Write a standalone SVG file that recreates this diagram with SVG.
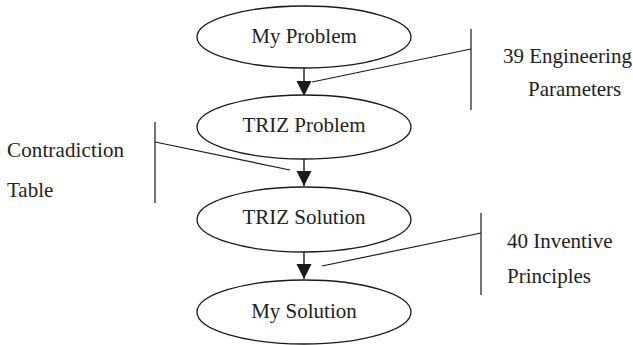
<svg xmlns="http://www.w3.org/2000/svg" width="633" height="345" viewBox="0 0 633 345" font-family="'Liberation Serif', 'Times New Roman', Times, 'DejaVu Serif', serif">
  <style>
    .node ellipse { fill: #ffffff; stroke: #1a1a1a; stroke-width: 1.3; }
    text { font-family: "Liberation Serif", "Times New Roman", Times, "DejaVu Serif", serif; font-size: 21px; fill: #222222; }
    .c { text-anchor: middle; }
    .edge { stroke: #1a1a1a; stroke-width: 1.4; fill: none; }
    .lead { stroke: #1a1a1a; stroke-width: 1.2; fill: none; }
  </style>
  <defs>
    <marker id="arrow" markerWidth="16" markerHeight="16" refX="15" refY="7.5" orient="auto" markerUnits="userSpaceOnUse">
      <path d="M0,0 L15,7.5 L0,15 Z" fill="#1a1a1a"/>
    </marker>
  </defs>

  <rect width="633" height="345" fill="#ffffff"/>

  <g id="connectors">
    <line class="edge" x1="304" y1="68" x2="304" y2="96" marker-end="url(#arrow)"/>
    <line class="edge" x1="304" y1="159" x2="304" y2="186" marker-end="url(#arrow)"/>
    <line class="edge" x1="304" y1="252" x2="304" y2="279" marker-end="url(#arrow)"/>
  </g>

  <g id="node-my-problem" class="node">
    <ellipse cx="304" cy="37" rx="107" ry="31"/>
    <text class="c" x="304" y="43">My Problem</text>
  </g>
  <g id="node-triz-problem" class="node">
    <ellipse cx="304" cy="127" rx="107" ry="32"/>
    <text class="c" x="304" y="132">TRIZ Problem</text>
  </g>
  <g id="node-triz-solution" class="node">
    <ellipse cx="304" cy="219.5" rx="107" ry="32.5"/>
    <text class="c" x="304" y="224">TRIZ Solution</text>
  </g>
  <g id="node-my-solution" class="node">
    <ellipse cx="304" cy="312" rx="107" ry="32"/>
    <text class="c" x="304" y="318">My Solution</text>
  </g>

  <g id="note-engineering-parameters">
    <line class="lead" x1="471" y1="29" x2="471" y2="110"/>
    <line class="lead" x1="471" y1="49" x2="312" y2="82"/>
    <text x="503" y="63">39 Engineering</text>
    <text x="528" y="96">Parameters</text>
  </g>

  <g id="note-contradiction-table">
    <line class="lead" x1="155" y1="122" x2="155" y2="203"/>
    <line class="lead" x1="155" y1="142" x2="290" y2="170"/>
    <text x="7" y="157" textLength="117">Contradiction</text>
    <text x="7" y="197">Table</text>
  </g>

  <g id="note-inventive-principles">
    <line class="lead" x1="481" y1="213" x2="481" y2="295"/>
    <line class="lead" x1="481" y1="233" x2="322" y2="266"/>
    <text x="507" y="248">40 Inventive</text>
    <text x="507" y="283">Principles</text>
  </g>
</svg>
